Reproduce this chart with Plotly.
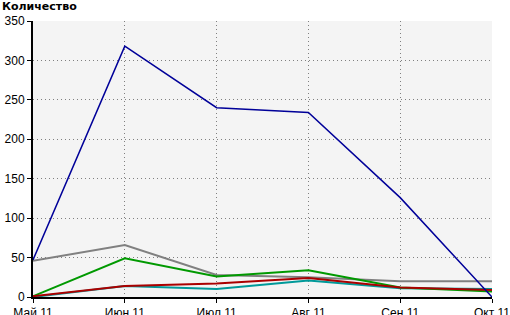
import plotly.graph_objects as go

months = ["Май 11", "Июн 11", "Июл 11", "Авг 11", "Сен 11", "Окт 11"]
blue = [47, 318, 240, 234, 126, 0]
gray = [46, 66, 28, 25, 20, 20]
green = [1, 49, 26, 34, 12, 7]
red = [1, 14, 17, 24, 12, 9]
cyan = [0, 14, 10, 21, 11, 10]
y_ticks = [0, 50, 100, 150, 200, 250, 300, 350]

fig = go.Figure()
series = [
    (gray, "#808080", 2),
    (cyan, "#009999", 2),
    (green, "#009900", 2),
    (red, "#aa0000", 2),
    (blue, "#000099", 1.5),
]
for vals, col, w in series:
    fig.add_trace(go.Scatter(x=list(range(len(months))), y=vals, mode="lines",
                             line=dict(color=col, width=w), showlegend=False,
                             hoverinfo="skip"))

axis_common = dict(
    showgrid=True, gridcolor="#808080", griddash="1px,3px", gridwidth=1,
    showline=True, linecolor="black", linewidth=2,
    ticks="outside", ticklen=4, tickcolor="black", tickwidth=1,
    zeroline=False, fixedrange=True, ticklabeloverflow="allow", automargin=False,
)

fig.update_layout(
    width=510, height=315,
    margin=dict(l=33, r=18, t=21, b=18),
    paper_bgcolor="white",
    plot_bgcolor="#f4f4f4",
    font=dict(family="Liberation Sans, Arial, sans-serif", size=12, color="black"),
    xaxis=dict(range=[0, 5], tickmode="array", tickvals=list(range(len(months))),
               ticktext=months, **axis_common),
    yaxis=dict(range=[0, 350], tickmode="array", tickvals=y_ticks, **axis_common),
    annotations=[dict(text="<b>Количество</b>", xref="paper", yref="paper",
                      x=0, y=1, xshift=-33, yshift=23, xanchor="left", yanchor="top",
                      showarrow=False, font=dict(size=11, family="DejaVu Sans, sans-serif"))],
)
fig.write_html("out.html", config={"displayModeBar": False})
